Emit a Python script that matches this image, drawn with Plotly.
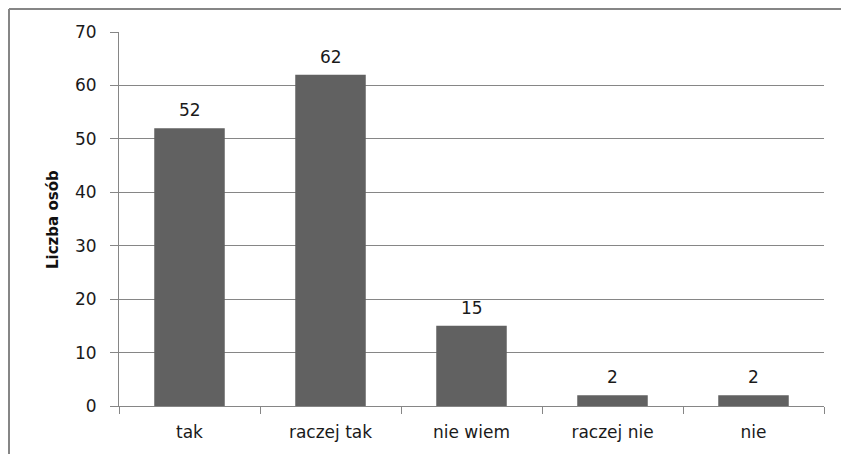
import plotly.graph_objects as go

categories = ["tak", "raczej tak", "nie wiem", "raczej nie", "nie"]
values = [52, 62, 15, 2, 2]
y_title = "Liczba osób"

FONT = "DejaVu Sans"
GRID = "#868686"
TXT = "#1a1a1a"

W, H = 841, 454
L, R, T, B = 119, 17, 32, 48
pw, ph = W - L - R, H - T - B

def px_x(p):
    return (p - L) / pw

def px_y(p):
    return 1 - (p - T) / ph

fig = go.Figure(go.Bar(
    x=categories, y=values,
    marker=dict(color="#616161", line=dict(width=0)),
    width=0.5,
))

annotations = [
    dict(x=c, y=v, xref="x", yref="y", text=str(v), showarrow=False,
         yanchor="bottom", yshift=6,
         font=dict(family=FONT, size=17, color=TXT))
    for c, v in zip(categories, values)
]
annotations.append(dict(
    x=px_x(53), y=px_y(220), xref="paper", yref="paper",
    text="<b>" + y_title + "</b>", textangle=-90, showarrow=False,
    xanchor="center", yanchor="middle",
    font=dict(family=FONT, size=15, color="#111111"),
))

fig.update_layout(
    width=W, height=H,
    margin=dict(l=L, r=R, t=T, b=B, pad=0),
    paper_bgcolor="white", plot_bgcolor="white",
    showlegend=False,
    font=dict(family=FONT, size=17, color=TXT),
    xaxis=dict(
        type="category",
        showgrid=False,
        showline=True, linecolor=GRID, linewidth=1,
        ticks="outside", ticklen=7, tickcolor=GRID, tickson="boundaries",
        tickfont=dict(family=FONT, size=17, color=TXT),
        ticklabelstandoff=11,
        fixedrange=True,
    ),
    yaxis=dict(
        range=[0, 70], dtick=10, tick0=0,
        showgrid=True, gridcolor=GRID, gridwidth=1,
        zeroline=False,
        showline=True, linecolor=GRID, linewidth=1,
        ticks="outside", ticklen=8, tickcolor=GRID,
        tickfont=dict(family=FONT, size=17, color=TXT),
        ticklabelstandoff=10,
        fixedrange=True,
    ),
    annotations=annotations,
    shapes=[
        dict(type="line", xref="paper", yref="paper",
             x0=px_x(9), x1=px_x(900), y0=px_y(9), y1=px_y(9),
             line=dict(color=GRID, width=2)),
        dict(type="line", xref="paper", yref="paper",
             x0=px_x(9), x1=px_x(9), y0=px_y(9), y1=px_y(500),
             line=dict(color=GRID, width=2)),
    ],
)

fig.write_html(
    "out.html",
    config={"displayModeBar": False},
    post_script="document.body.style.margin='0';document.body.style.overflow='hidden';",
)
